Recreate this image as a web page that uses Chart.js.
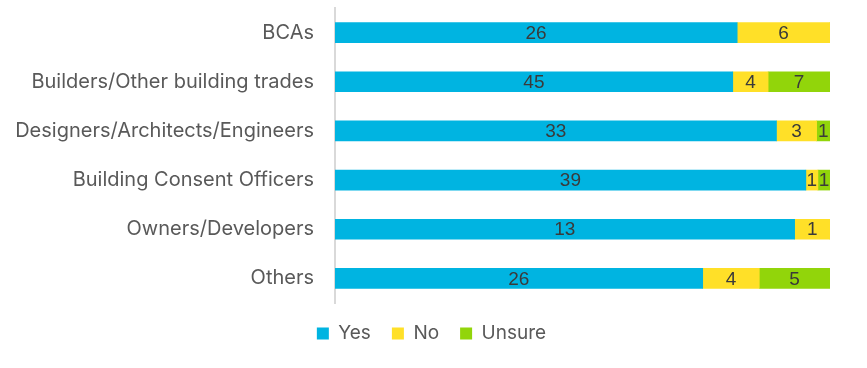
<!DOCTYPE html>
<html><head><meta charset="utf-8">
<script src="https://cdn.jsdelivr.net/npm/chart.js@4"></script>
<style>html,body{margin:0;padding:0;background:#fff}#wrap{width:867px;height:368px}</style>
</head><body><div id="wrap"><canvas id="c"></canvas></div>
<script>
const categories = ["BCAs","Builders/Other building trades","Designers/Architects/Engineers","Building Consent Officers","Owners/Developers","Others"];
const yesValues = [26,45,33,39,13,26];
const noValues = [6,4,3,1,1,4];
const unsureValues = [0,7,1,1,0,5];
const seriesNames = ["Yes","No","Unsure"];
const colors = ["#00B4E1","#FFE028","#92D50A"];

const raw = [yesValues,noValues,unsureValues];
const totals = categories.map((_,i)=>raw.reduce((s,a)=>s+a[i],0));
const datasets = raw.map((arr,k)=>({
  label: seriesNames[k],
  data: arr.map((v,i)=>v/totals[i]*100),
  rawData: arr,
  backgroundColor: colors[k],
  borderWidth: 0,
  barThickness: 20
}));
const FONT = "Inter, 'Liberation Sans', sans-serif";
const NUMFONT = "'Liberation Sans', Arial, sans-serif";
const labelPlugin = {
  id:'segLabels',
  afterUpdate(chart){
    const lg = chart.legend;
    if (lg) { lg.left += 12.5; lg.right += 12.5; }
  },
  afterDatasetsDraw(chart){
    const ctx = chart.ctx;
    ctx.save();
    ctx.font = "19px " + NUMFONT;
    ctx.fillStyle = "#3A3A3A";
    ctx.textAlign = "center";
    ctx.textBaseline = "middle";
    chart.data.datasets.forEach((ds,di)=>{
      const meta = chart.getDatasetMeta(di);
      meta.data.forEach((el,i)=>{
        const v = ds.rawData[i];
        if(!v) return;
        const p = el.getProps(['x','y','base'],true);
        ctx.fillText(String(v),(p.x+p.base)/2,p.y+1);
      });
    });
    ctx.restore();
  }
};
new Chart(document.getElementById('c'),{
  type:'bar',
  data:{labels:categories,datasets},
  options:{
    indexAxis:'y',
    responsive:true,
    maintainAspectRatio:false,
    animation:false,
    layout:{padding:{top:8,right:37,left:8,bottom:15}},
    scales:{
      x:{stacked:true,min:0,max:100,display:false},
      y:{stacked:true,
         afterFit(s){ s.width = 327; s.paddingTop = 0; s.paddingBottom = 0; },
         grid:{display:false,drawTicks:false},
         border:{color:"#D9D9D9",width:2},
         ticks:{padding:21,color:"#595959",font:{family:FONT,size:20}}}
    },
    plugins:{
      legend:{position:'bottom',
        labels:{boxWidth:12,boxHeight:12,padding:21,color:"#595959",font:{family:FONT,size:19}}},
      tooltip:{enabled:false}
    }
  },
  plugins:[labelPlugin]
});
</script></body></html>
